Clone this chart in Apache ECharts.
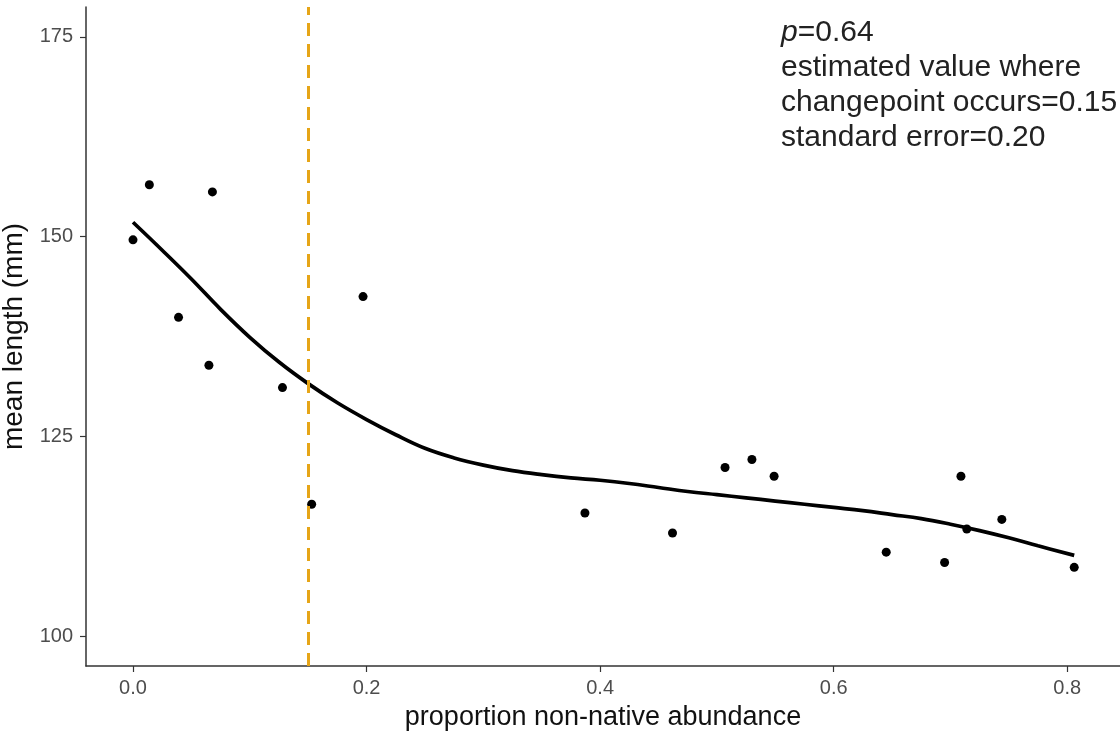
<!DOCTYPE html>
<html>
<head>
<meta charset="utf-8">
<title>mean length vs proportion non-native abundance</title>
<script src="https://cdn.jsdelivr.net/npm/echarts@6/dist/echarts.min.js"></script>
<style>
  html, body { margin: 0; padding: 0; background: #fff; }
  #chart { width: 1120px; height: 733px; }
</style>
</head>
<body>
<div id="chart"></div>
<script>
// observed points (proportion non-native, mean length mm)
const pointX = [0.000, 0.014, 0.068, 0.039, 0.065, 0.128, 0.197, 0.153, 0.387, 0.462,
  0.507, 0.530, 0.549, 0.645, 0.695, 0.709, 0.714, 0.744, 0.806];
const pointY = [149.6, 156.5, 155.6, 139.9, 133.9, 131.1, 142.5, 116.5, 115.4, 112.9,
  121.1, 122.1, 120.0, 110.5, 109.2, 120.0, 113.4, 114.6, 108.6];

// smoothed fit
const fitX = [0, 0.025, 0.05, 0.075, 0.10, 0.125, 0.15, 0.175, 0.20, 0.225, 0.25, 0.275,
  0.30, 0.325, 0.35, 0.375, 0.40, 0.425, 0.45, 0.475, 0.50, 0.525, 0.55, 0.575, 0.60,
  0.625, 0.65, 0.675, 0.70, 0.725, 0.75, 0.775, 0.806];
const fitY = [151.8, 148.3, 144.7, 140.9, 137.4, 134.3, 131.6, 129.2, 127.1, 125.2, 123.5, 122.3,
  121.4, 120.7, 120.2, 119.8, 119.5, 119.1, 118.6, 118.1, 117.7, 117.3, 116.9, 116.5, 116.1,
  115.7, 115.2, 114.7, 114.0, 113.2, 112.3, 111.3, 110.1];

const changepoint = 0.15;
const xTicks = [0, 0.2, 0.4, 0.6, 0.8];
const yTicks = [100, 125, 150, 175];

const chart = echarts.init(document.getElementById('chart'));

const font = 'Liberation Sans, Arial, sans-serif';
const labelStyle = { color: '#4d4d4d', fontSize: 20, fontFamily: font };
const axisLine = { show: true, onZero: false, lineStyle: { color: '#333', width: 1.5 } };
const axisTick = { show: true, length: 6, lineStyle: { color: '#333', width: 1.2 } };

chart.setOption({
  animation: false,
  backgroundColor: '#fff',
  grid: { left: 86, top: 7, right: 0, bottom: 67, containLabel: false, outerBoundsMode: 'none' },
  xAxis: {
    type: 'value',
    min: -0.04025,
    max: 0.8452,
    name: 'proportion non-native abundance',
    nameLocation: 'middle',
    nameGap: 38,
    nameTextStyle: { color: '#111', fontSize: 27, fontFamily: font },
    axisLine: axisLine,
    axisTick: Object.assign({ customValues: xTicks }, axisTick),
    axisLabel: Object.assign({ customValues: xTicks, margin: 12, formatter: v => v.toFixed(1) }, labelStyle),
    splitLine: { show: false }
  },
  yAxis: {
    type: 'value',
    min: 96.25,
    max: 178.75,
    name: 'mean length (mm)',
    nameLocation: 'middle',
    nameGap: 46,
    nameTextStyle: { color: '#111', fontSize: 28, fontFamily: font },
    axisLine: axisLine,
    axisTick: Object.assign({ customValues: yTicks }, axisTick),
    axisLabel: Object.assign({ customValues: yTicks, margin: 13 }, labelStyle),
    splitLine: { show: false }
  },
  series: [
    {
      type: 'line',
      data: fitX.map((x, i) => [x, fitY[i]]),
      smooth: 0.4,
      showSymbol: false,
      lineStyle: { color: '#000', width: 3.7 },
      z: 3
    },
    {
      type: 'scatter',
      data: pointX.map((x, i) => [x, pointY[i]]),
      symbolSize: 9,
      itemStyle: { color: '#000', opacity: 1 },
      z: 4,
      markLine: {
        silent: true,
        symbol: 'none',
        label: { show: false },
        lineStyle: { color: '#E6A517', width: 3, type: [13, 8] },
        data: [{ xAxis: changepoint }]
      }
    }
  ],
  graphic: [{
    type: 'text',
    left: 781,
    top: 15,
    style: {
      text: '{i|p}=0.64\nestimated value where\nchangepoint occurs=0.15\nstandard error=0.20',
      fill: '#222',
      fontSize: 30,
      lineHeight: 35,
      fontFamily: font,
      rich: {
        i: { fontStyle: 'italic', fontSize: 30, fill: '#222', fontFamily: font }
      }
    }
  }]
});
</script>
</body>
</html>
